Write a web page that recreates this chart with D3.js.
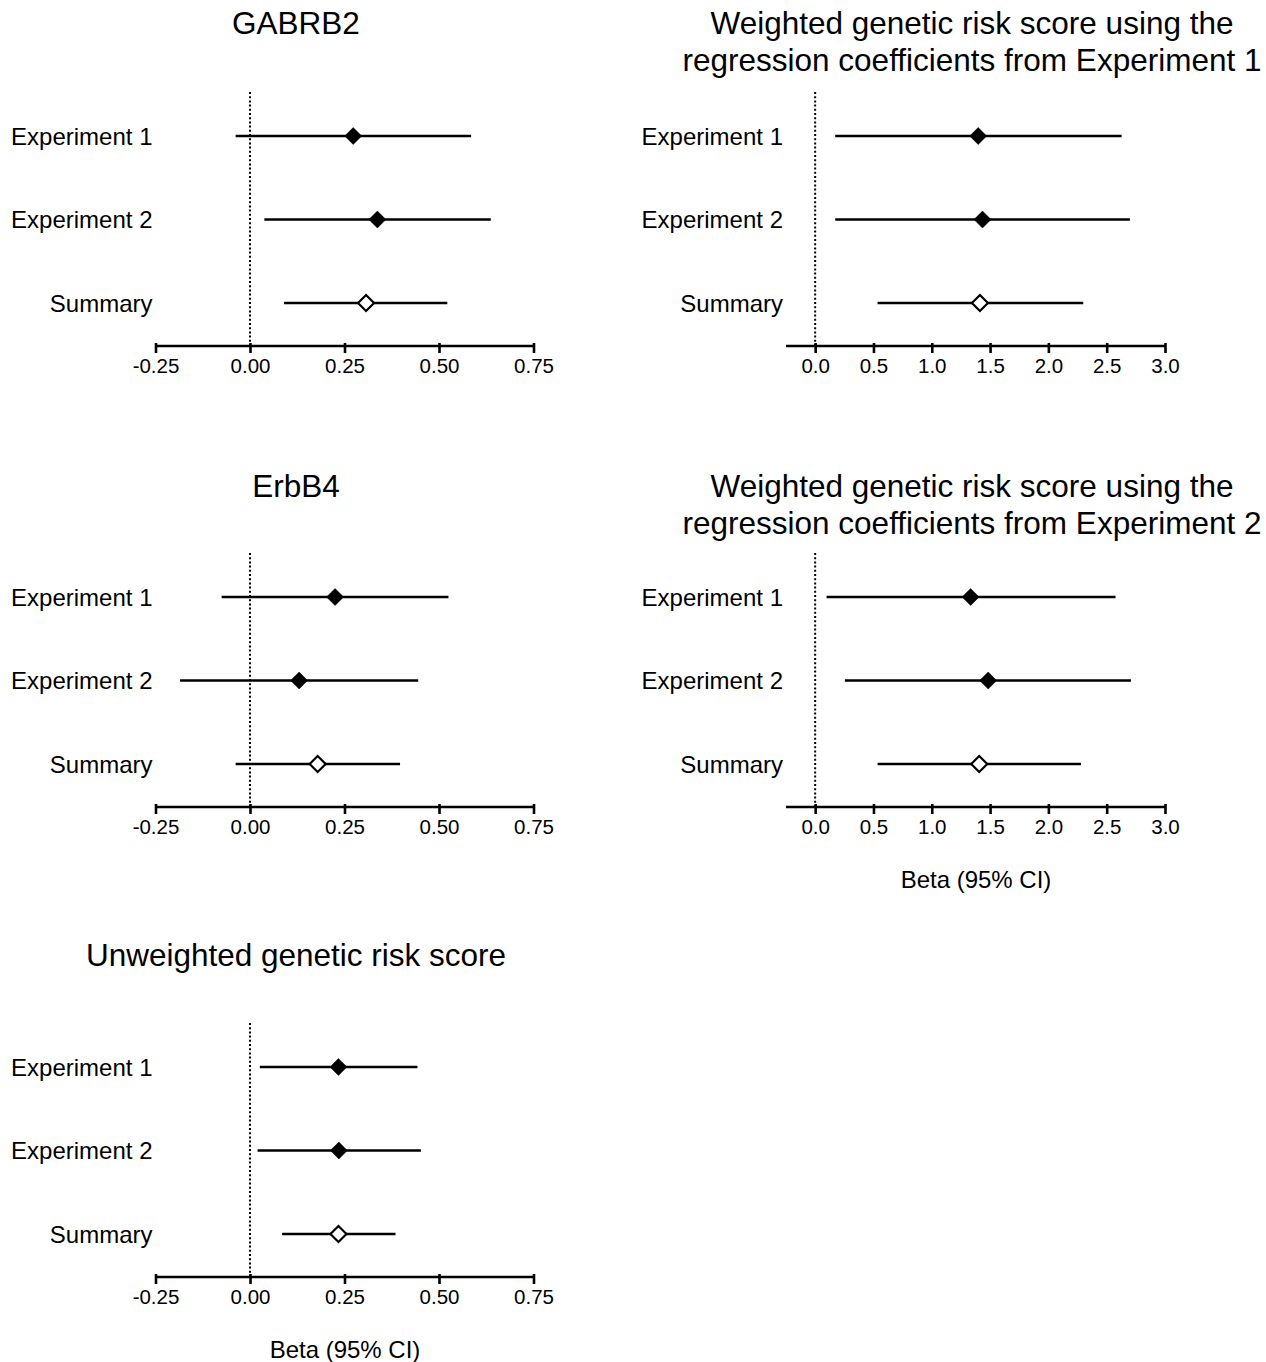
<!DOCTYPE html>
<html>
<head>
<meta charset="utf-8">
<script src="https://cdn.jsdelivr.net/npm/d3@7"></script>
<style>
  html, body { margin: 0; padding: 0; background: #fff; }
  svg { display: block; font-family: "Liberation Sans", Arial, Helvetica, sans-serif; }
</style>
</head>
<body>
<svg id="chart" width="1266" height="1362"></svg>
<script>
// Row labels shared by every forest plot
const categories = ["Experiment 1", "Experiment 2", "Summary"];

// Point estimates and 95% confidence bounds, one set per panel
const gabrb2Beta  = [0.273, 0.337, 0.307];
const gabrb2Lower = [-0.038, 0.038, 0.090];
const gabrb2Upper = [0.585, 0.637, 0.522];

const erbb4Beta  = [0.225, 0.130, 0.179];
const erbb4Lower = [-0.075, -0.185, -0.038];
const erbb4Upper = [0.525, 0.445, 0.397];

const wgrs1Beta  = [1.398, 1.435, 1.413];
const wgrs1Lower = [0.172, 0.172, 0.535];
const wgrs1Upper = [2.628, 2.699, 2.299];

const wgrs2Beta  = [1.333, 1.484, 1.407];
const wgrs2Lower = [0.098, 0.255, 0.535];
const wgrs2Upper = [2.576, 2.708, 2.279];

const ugrsBeta  = [0.234, 0.235, 0.234];
const ugrsLower = [0.026, 0.020, 0.085];
const ugrsUpper = [0.443, 0.452, 0.385];

// Axis domains and tick labels
const geneDomain = [-0.25, 0.75];
const geneTicks = [-0.25, 0, 0.25, 0.5, 0.75];
const scoreDomain = [-0.25, 3.0];
const scoreTicks = [0, 0.5, 1.0, 1.5, 2.0, 2.5, 3.0];

const axisTitle = "Beta (95% CI)";

// Plain hyphen for negative tick values
const fmt2 = v => d3.format(".2f")(v).replace("\u2212", "-");
const fmt1 = v => d3.format(".1f")(v).replace("\u2212", "-");

const panels = [
  { title: ["GABRB2"], beta: gabrb2Beta, lo: gabrb2Lower, hi: gabrb2Upper,
    domain: geneDomain, ticks: geneTicks, fmt: fmt2,
    x0: 155.5, x1: 533.5, axisY: 346, titleX: 296, titleY: 34, xlabel: false },
  { title: ["Weighted genetic risk score using the", "regression coefficients from Experiment 1"],
    beta: wgrs1Beta, lo: wgrs1Lower, hi: wgrs1Upper,
    domain: scoreDomain, ticks: scoreTicks, fmt: fmt1,
    x0: 786, x1: 1165, axisY: 346, titleX: 972, titleY: 34, xlabel: false },
  { title: ["ErbB4"], beta: erbb4Beta, lo: erbb4Lower, hi: erbb4Upper,
    domain: geneDomain, ticks: geneTicks, fmt: fmt2,
    x0: 155.5, x1: 533.5, axisY: 807, titleX: 296, titleY: 497, xlabel: false },
  { title: ["Weighted genetic risk score using the", "regression coefficients from Experiment 2"],
    beta: wgrs2Beta, lo: wgrs2Lower, hi: wgrs2Upper,
    domain: scoreDomain, ticks: scoreTicks, fmt: fmt1,
    x0: 786, x1: 1165, axisY: 807, titleX: 972, titleY: 497, xlabel: true },
  { title: ["Unweighted genetic risk score"], beta: ugrsBeta, lo: ugrsLower, hi: ugrsUpper,
    domain: geneDomain, ticks: geneTicks, fmt: fmt2,
    x0: 155.5, x1: 533.5, axisY: 1277, titleX: 296, titleY: 966, xlabel: true }
];

// Square diamond (equal width and height), size = half-diagonal squared
const squareDiamond = {
  draw(context, size) {
    const r = Math.sqrt(size);
    context.moveTo(0, -r);
    context.lineTo(r, 0);
    context.lineTo(0, r);
    context.lineTo(-r, 0);
    context.closePath();
  }
};
const filledMark = d3.symbol().type(squareDiamond).size(8.5 * 8.5);
const openMark = d3.symbol().type(squareDiamond).size(8 * 8);

const svg = d3.select("#chart");

panels.forEach(p => {
  const g = svg.append("g");
  const x = d3.scaleLinear().domain(p.domain).range([p.x0, p.x1]);
  const y = d3.scalePoint().domain(categories).range([p.axisY - 210, p.axisY - 43]);

  // Panel title (one or two lines)
  const t = g.append("text")
    .attr("x", p.titleX).attr("y", p.titleY)
    .attr("text-anchor", "middle")
    .attr("font-size", 31.5).attr("fill", "#000");
  p.title.forEach((line, i) => {
    t.append("tspan").attr("x", p.titleX).attr("dy", i === 0 ? 0 : 37).text(line);
  });

  // Reference line at zero
  g.append("line")
    .attr("x1", x(0)).attr("x2", x(0))
    .attr("y1", p.axisY - 254).attr("y2", p.axisY)
    .attr("stroke", "#000").attr("stroke-width", 2)
    .attr("stroke-dasharray", "2,2.2");

  // X axis
  const ax = g.append("g")
    .attr("transform", `translate(0,${p.axisY})`)
    .call(d3.axisBottom(x).tickValues(p.ticks).tickFormat(p.fmt).tickSize(7).tickSizeOuter(0));
  ax.select(".domain").attr("stroke", "#000").attr("stroke-width", 2.6)
    .attr("d", `M${p.x0},0H${p.x1}`);
  ax.selectAll(".tick line").attr("stroke", "#000").attr("stroke-width", 2.6)
    .attr("y1", -3).attr("y2", 7);
  ax.selectAll(".tick text")
    .attr("y", 27).attr("dy", 0)
    .attr("font-size", 20.5).attr("font-family", "Liberation Sans, Arial, sans-serif")
    .attr("fill", "#000");

  if (p.xlabel) {
    g.append("text")
      .attr("x", (p.x0 + p.x1) / 2 + 0.5).attr("y", p.axisY + 81)
      .attr("text-anchor", "middle").attr("font-size", 24).attr("fill", "#000")
      .text(axisTitle);
  }

  // Row labels
  g.selectAll(".rowlabel").data(categories).enter().append("text")
    .attr("x", p.x0 - 3).attr("y", d => y(d) + 8.5)
    .attr("text-anchor", "end").attr("font-size", 24).attr("fill", "#000")
    .text(d => d);

  // Confidence intervals
  g.selectAll(".ci").data(categories).enter().append("line")
    .attr("x1", (d, i) => x(p.lo[i])).attr("x2", (d, i) => x(p.hi[i]))
    .attr("y1", d => y(d)).attr("y2", d => y(d))
    .attr("stroke", "#000").attr("stroke-width", 2.6);

  // Point estimates: filled for single experiments, open for the summary
  g.selectAll(".est").data(categories).enter().append("path")
    .attr("transform", (d, i) => `translate(${x(p.beta[i])},${y(d)})`)
    .attr("d", (d, i) => i < 2 ? filledMark() : openMark())
    .attr("fill", (d, i) => i < 2 ? "#000" : "#fff")
    .attr("stroke", "#000")
    .attr("stroke-width", (d, i) => i < 2 ? 0.5 : 2.2);
});
</script>
</body>
</html>
